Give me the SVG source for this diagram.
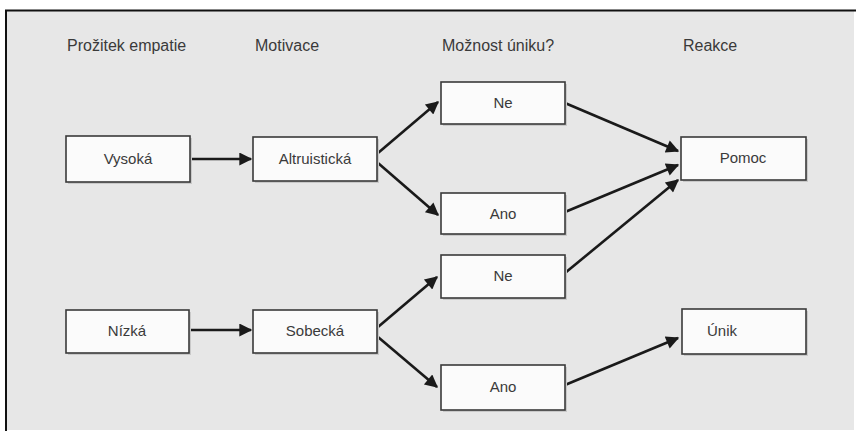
<svg xmlns="http://www.w3.org/2000/svg" width="856" height="436" viewBox="0 0 856 436">
<style>
.bg{fill:#e7e7e7}
.frame{stroke:#111;stroke-width:2;fill:none}
.box{fill:#fbfbfb;stroke:#3a3a3a;stroke-width:1.6}
.shadow{fill:#c9c9c9}
.hdr{font-family:"Liberation Sans",Arial,sans-serif;font-size:16px;fill:#3a3a3a}
.lbl{font-family:"Liberation Sans",Arial,sans-serif;font-size:15px;fill:#3a3a3a;text-anchor:middle}
.con{stroke:#1a1a1a;stroke-width:2.6;fill:none;marker-end:url(#ah)}
</style>
<defs>
<marker id="ah" viewBox="0 0 10 10" refX="9" refY="5" markerWidth="6" markerHeight="5" orient="auto" markerUnits="strokeWidth">
<path d="M0,0 L10,5 L0,10 z" fill="#1a1a1a"/>
</marker>
<pattern id="tex" width="24" height="10" patternUnits="userSpaceOnUse" patternTransform="rotate(-12)">
<rect width="24" height="10" fill="#e8e8e8"/>
<path d="M0,3 L12,3 M10,8 L22,8" stroke="#dadada" stroke-width="1.2"/>
</pattern>
</defs>
<rect x="0" y="0" width="856" height="436" fill="#ffffff"/>
<rect class="bg" x="6" y="10" width="848" height="420" fill="url(#tex)"/>
<path class="frame" d="M6,431 L6,10.5 L856,10.5"/>

<g id="headers">
<text class="hdr" x="67" y="51">Prožitek empatie</text>
<text class="hdr" x="255" y="51">Motivace</text>
<text class="hdr" x="442" y="51">Možnost úniku?</text>
<text class="hdr" x="683" y="51">Reakce</text>
</g>

<g id="connectors">
<line class="con" x1="190" y1="159" x2="251" y2="159"/>
<line class="con" x1="189" y1="330" x2="251" y2="330"/>
<line class="con" x1="378" y1="153" x2="438" y2="102"/>
<line class="con" x1="378" y1="163" x2="438" y2="215"/>
<line class="con" x1="378" y1="327" x2="437" y2="277"/>
<line class="con" x1="378" y1="337" x2="437" y2="387"/>
<line class="con" x1="565" y1="103" x2="678" y2="151"/>
<line class="con" x1="565" y1="212" x2="678" y2="165"/>
<line class="con" x1="565" y1="273" x2="678" y2="180"/>
<line class="con" x1="565" y1="385" x2="678" y2="338"/>
</g>

<g id="n-vysoka">
<rect class="shadow" x="68" y="138" width="124" height="46"/>
<rect class="box" x="66" y="136" width="124" height="46"/>
<text class="lbl" x="128" y="164">Vysoká</text>
</g>
<g id="n-altruisticka">
<rect class="shadow" x="255" y="139" width="124" height="44"/>
<rect class="box" x="253" y="137" width="124" height="44"/>
<text class="lbl" x="315" y="164">Altruistická</text>
</g>
<g id="n-ne1">
<rect class="shadow" x="443" y="84" width="124" height="42"/>
<rect class="box" x="441" y="82" width="124" height="42"/>
<text class="lbl" x="503" y="108">Ne</text>
</g>
<g id="n-ano1">
<rect class="shadow" x="443" y="195" width="124" height="41"/>
<rect class="box" x="441" y="193" width="124" height="41"/>
<text class="lbl" x="503" y="219">Ano</text>
</g>
<g id="n-pomoc">
<rect class="shadow" x="683" y="139" width="125" height="43"/>
<rect class="box" x="681" y="137" width="125" height="43"/>
<text class="lbl" x="743" y="163">Pomoc</text>
</g>
<g id="n-nizka">
<rect class="shadow" x="68" y="312" width="123" height="43"/>
<rect class="box" x="66" y="310" width="123" height="43"/>
<text class="lbl" x="127" y="336">Nízká</text>
</g>
<g id="n-sobecka">
<rect class="shadow" x="255" y="312" width="124" height="43"/>
<rect class="box" x="253" y="310" width="124" height="43"/>
<text class="lbl" x="315" y="336">Sobecká</text>
</g>
<g id="n-ne2">
<rect class="shadow" x="443" y="257" width="124" height="43"/>
<rect class="box" x="441" y="255" width="124" height="43"/>
<text class="lbl" x="503" y="281">Ne</text>
</g>
<g id="n-ano2">
<rect class="shadow" x="443" y="367" width="124" height="45"/>
<rect class="box" x="441" y="365" width="124" height="45"/>
<text class="lbl" x="503" y="392">Ano</text>
</g>
<g id="n-unik">
<rect class="shadow" x="684" y="311" width="124" height="45"/>
<rect class="box" x="682" y="309" width="124" height="45"/>
<text class="lbl" x="722" y="336">Únik</text>
</g>
</svg>
